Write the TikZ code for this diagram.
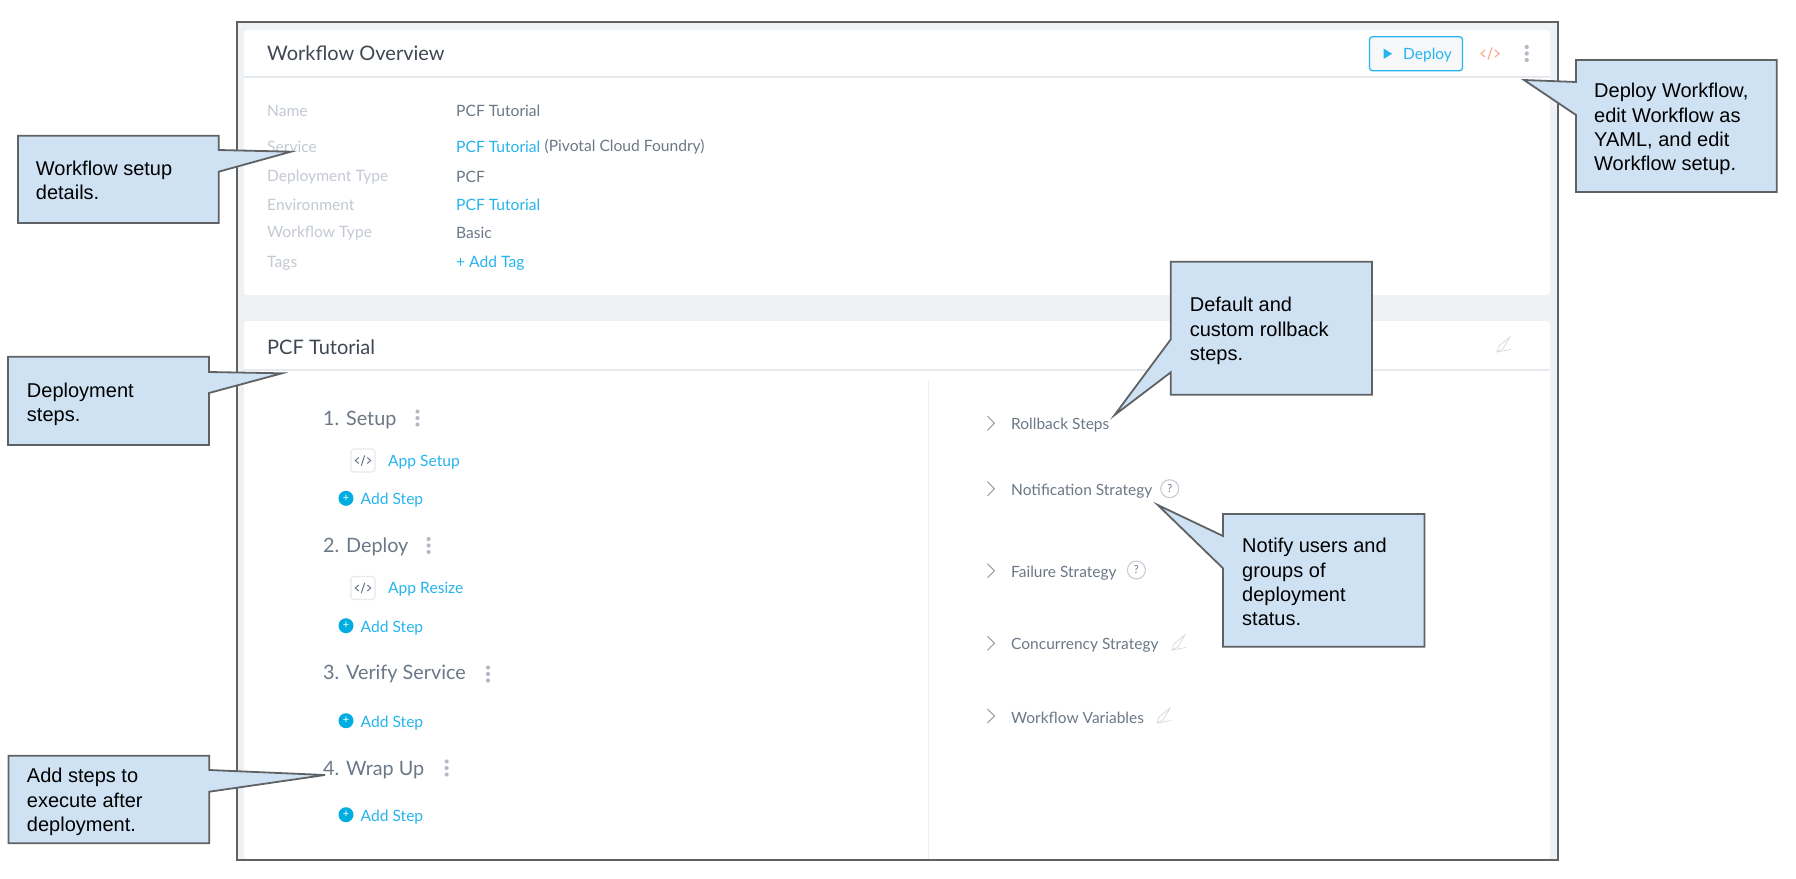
\documentclass[tikz,border=0pt]{standalone}
\usepackage{fontspec}
\setmainfont{Lato}
\newfontfamily\calloutfont{Liberation Sans}
\definecolor{framegray}{HTML}{5F6265}
\definecolor{pagegray}{HTML}{EEF2F5}
\definecolor{linegray}{HTML}{E6E9EE}
\definecolor{calloutblue}{HTML}{CFE2F3}
\definecolor{linkblue}{HTML}{25B4EE}
\definecolor{dotblue}{HTML}{00ADE0}
\definecolor{valuegray}{HTML}{6B7888}
\definecolor{labelgray}{HTML}{C3C9D2}
\definecolor{titlegray}{HTML}{3F4752}
\definecolor{dotgray}{HTML}{B4BAC5}
\definecolor{codeorange}{HTML}{F9A27F}
\tikzset{
  txt/.style={anchor=west, inner sep=0pt, yshift=-2.2pt},
  fieldname/.style={txt, font=\fontsize{15.6}{18}\selectfont, text=labelgray},
  fieldvalue/.style={txt, font=\fontsize{15.6}{18}\selectfont, text=valuegray},
  fieldlink/.style={txt, font=\fontsize{15.6}{18}\selectfont, text=linkblue},
  paneltitle/.style={txt, font=\fontsize{20}{24}\selectfont, text=titlegray},
  stephead/.style={txt, font=\fontsize{19.8}{24}\selectfont, text=valuegray},
  sidelabel/.style={txt, font=\fontsize{15.5}{18}\selectfont, text=valuegray},
  callbox/.style={draw=framegray, line width=1.8pt, fill=calloutblue, line join=miter},
  calltext/.style={txt, align=left, text=black, font=\calloutfont\fontsize{20}{24.4}\selectfont},
  helpmark/.style={circle, draw=labelgray, line width=1pt, minimum size=18pt, inner sep=0pt, text=valuegray, font=\fontsize{11}{11}\selectfont},
  plusmark/.style={circle, fill=dotblue, minimum size=15pt, inner sep=0pt, text=white, font=\fontsize{11}{11}\selectfont},
  codeglyph/.pic={
    \draw[pic actions, line width=1pt] (-5,-3.5) -- (-9,0) -- (-5,3.5);
    \draw[pic actions, line width=1pt] (5,-3.5) -- (9,0) -- (5,3.5);
    \draw[pic actions, line width=1pt] (-2,6) -- (2,-6);
  },
  pencilglyph/.pic={
    \draw[labelgray!80, line width=0.6pt] (-7,7) -- (-5,1) -- (6,-8) -- (-1,4) -- cycle;
    \draw[labelgray!80, line width=0.6pt] (-7,7) -- (7,4.5);
  },
  vdots/.pic={
    \foreach \a in {-6.5,0,6.5} {\fill[dotgray] (0,\a) circle (2.1);}
  },
  chevron/.pic={
    \draw[valuegray!80, line width=0.9pt] (-3.5,-7) -- (3.5,0) -- (-3.5,7);
  }
}
\begin{document}
\begin{tikzpicture}[x=1pt, y=-1pt]
\useasboundingbox (0,0) rectangle (1796,878);

% panels
\fill[pagegray] (237,22) rectangle (1558,860);
\fill[white, rounded corners=3] (244,30) rectangle (1550,295);
\fill[white, rounded corners=3] (244,321) rectangle (1550,859);
\draw[linegray, line width=1.5pt] (244,77) -- (1550,77);
\draw[linegray, line width=1.5pt] (244,370) -- (1550,370);
\draw[linegray!70, line width=0.8pt] (928,381) -- (928,859);
\draw[framegray, line width=2pt] (237,22) rectangle (1558,860);

% overview
\node (overview) [paneltitle] at (267,51.5) {Workflow Overview};
\node (deploybtn) [draw=linkblue, fill=pagegray!50, line width=1.2pt, rounded corners=3pt, minimum width=93pt, minimum height=34pt] at (1416,53.7) {};
\fill[linkblue] (1383.5,48.5) -- (1392,53.7) -- (1383.5,59) -- cycle;
\node (deploytxt) [fieldlink, font=\fontsize{15.5}{18}\selectfont] at (1403,52.5) {Deploy};
\pic[draw=codeorange] at (1490,53.5) {codeglyph};
\pic at (1526.7,53.5) {vdots};

\foreach \n/\y/\t in {name/109/Name, service/145/Service, dtype/175/Deployment Type, env/203/Environment, wtype/231/Workflow Type, tags/261/Tags}
  {\node (\n) [fieldname] at (267,\y) {\t};}
\node (nameval) [fieldvalue] at (456,109) {PCF Tutorial};
\node (serviceval) [fieldlink] at (456,145) {PCF Tutorial};
\node (servicekind) [fieldvalue] at (544.5,145) {(Pivotal Cloud Foundry)};
\node (dtypeval) [fieldvalue] at (456,175) {PCF};
\node (envval) [fieldlink] at (456,203) {PCF Tutorial};
\node (wtypeval) [fieldvalue] at (456,231) {Basic};
\node (tagsval) [fieldlink] at (456,261) {+ Add Tag};

% tutorial
\node (tutorial) [paneltitle] at (267,345) {PCF Tutorial};
\pic at (1503.8,345) {pencilglyph};

\node (setup) [stephead] at (323,418) {1. Setup};
\node (deploy) [stephead] at (323,545) {2. Deploy};
\node (verify) [stephead] at (323,672) {3. Verify Service};
\node (wrapup) [stephead] at (323,768) {4. Wrap Up};
\pic at (417.5,418) {vdots};
\pic at (428.6,545.5) {vdots};
\pic at (488,674) {vdots};
\pic at (446.6,768) {vdots};

\foreach \n/\y/\t in {setup/460.5/App Setup, resize/588/App Resize} {
  \node (\n box) [draw=linegray, line width=1.2pt, rounded corners=3pt, minimum width=24pt, minimum height=23pt] at (363,\y) {};
  \pic[draw=valuegray, scale=0.85] at (363,\y) {codeglyph};
  \node (\n txt) [fieldlink] at (388,\y-1) {\t};
}
\foreach \n/\y in {a/498.3, b/625.7, c/720.7, d/814.7} {
  \node (plus\n) [plusmark] at (346,\y) {+};
  \node (add\n) [fieldlink] at (360.5,\y) {Add Step};
}

\foreach \n/\y/\t in {rollback/423.3/Rollback Steps, notify/488.7/Notification Strategy, failure/570.7/Failure Strategy, concur/643.3/Concurrency Strategy, wfvars/716/Workflow Variables} {
  \pic at (991,\y) {chevron};
  \node (\n) [sidelabel] at (1011,\y) {\t};
}
\node (notifyhelp) [helpmark] at (1169.7,488.7) {?};
\node (failurehelp) [helpmark] at (1136.4,570) {?};
\pic at (1178.9,643) {pencilglyph};
\pic at (1164,716) {pencilglyph};

% callouts
\draw[callbox] (18,135.7) -- (218.7,135.7) -- (218.7,150) -- (291,151.7) -- (218.7,171.7) -- (218.7,223) -- (18,223) -- cycle;
\node (setupnote) [calltext] at (35.7,178) {Workflow setup\\details.};
\draw[callbox] (8,356.7) -- (209,356.7) -- (209,372) -- (282,373.3) -- (209,393) -- (209,445) -- (8,445) -- cycle;
\node (stepsnote) [calltext] at (26.8,402) {Deployment\\steps.};
\draw[callbox] (8.4,755.7) -- (209.3,755.7) -- (209.3,770) -- (325,775) -- (209.3,791.7) -- (209.3,843.3) -- (8.4,843.3) -- cycle;
\node (wrapnote) [calltext] at (26.8,800) {Add steps to\\execute after\\deployment.};
\draw[callbox] (1576,60) -- (1776.7,60) -- (1776.7,192) -- (1576,192) -- (1576,115) -- (1524,80) -- (1576,82) -- cycle;
\node (deploynote) [calltext] at (1594,127) {Deploy Workflow,\\edit Workflow as\\YAML, and edit\\Workflow setup.};
\draw[callbox] (1170.8,261.7) -- (1372,261.7) -- (1372,394.7) -- (1170.8,394.7) -- (1170.8,372.3) -- (1114.6,415) -- (1170.8,339.3) -- cycle;
\node (rollbacknote) [calltext] at (1189.6,328.7) {Default and\\custom rollback\\steps.};
\draw[callbox] (1223,514) -- (1424.5,514) -- (1424.5,646.7) -- (1223,646.7) -- (1223,568.3) -- (1157.8,505) -- (1223,536) -- cycle;
\node (notifynote) [calltext] at (1242,580) {Notify users and\\groups of\\deployment\\status.};

\end{tikzpicture}
\end{document}
